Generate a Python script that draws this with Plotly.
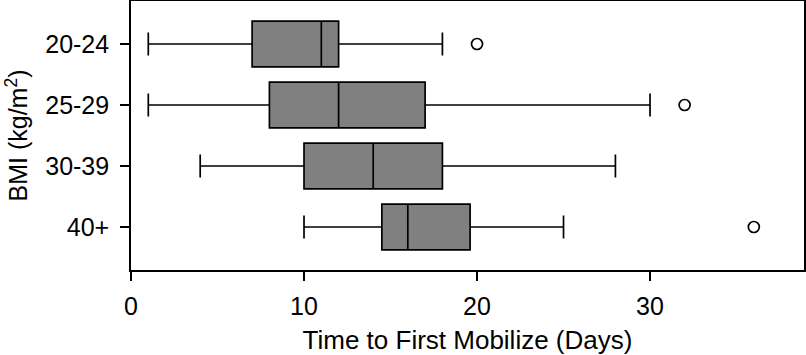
import plotly.graph_objects as go

categories = ["20-24", "25-29", "30-39", "40+"]
lower_fence = [1, 1, 4, 10]
q1 = [7, 8, 10, 14.5]
median = [11, 12, 14, 16]
q3 = [12, 17, 18, 19.6]
upper_fence = [18, 30, 28, 25]
outlier_cats = ["20-24", "25-29", "40+"]
outlier_vals = [20, 32, 36]

fig = go.Figure()
fig.add_trace(go.Box(
    y=categories, orientation="h",
    q1=q1, median=median, q3=q3,
    lowerfence=lower_fence, upperfence=upper_fence,
    fillcolor="#808080",
    line=dict(color="black", width=1.7),
    whiskerwidth=0.5,
    width=0.75,
    boxpoints=False,
    showlegend=False,
    hoverinfo="skip",
))
fig.add_trace(go.Scatter(
    x=outlier_vals, y=outlier_cats, mode="markers",
    marker=dict(symbol="circle-open", size=11, color="black", line=dict(width=1.7)),
    showlegend=False,
))

font = dict(family="Liberation Sans, Arial, Helvetica, sans-serif", size=25, color="black")
title_font = dict(family="Liberation Sans, Arial, Helvetica, sans-serif", size=26, color="black")
fig.update_layout(
    width=806, height=355,
    margin=dict(l=131, r=2, t=1, b=85, autoexpand=False),
    paper_bgcolor="white", plot_bgcolor="white",
    font=font,
)
fig.update_xaxes(
    range=[0, 38.9], tickvals=[0, 10, 20, 30],
    showgrid=False, zeroline=False,
    showline=True, linecolor="black", linewidth=1.6, mirror=True,
    ticks="outside", ticklen=9, tickwidth=1.6, tickcolor="black",
    ticklabelstandoff=4,
    title=dict(text="Time to First Mobilize (Days)", font=title_font, standoff=12),
    tickfont=font,
)
fig.update_yaxes(
    type="category", categoryorder="array", categoryarray=categories,
    range=[3.705, -0.705],
    showgrid=False, zeroline=False,
    showline=True, linecolor="black", linewidth=1.6, mirror=True,
    ticks="outside", ticklen=9, tickwidth=1.6, tickcolor="black",
    ticklabelstandoff=6,
    title=dict(text="BMI (kg/m<sup>2</sup>)", font=font, standoff=10),
    tickfont=font,
)
fig.write_html("out.html", config={"displayModeBar": False},
               post_script="document.body.style.margin='0';")
